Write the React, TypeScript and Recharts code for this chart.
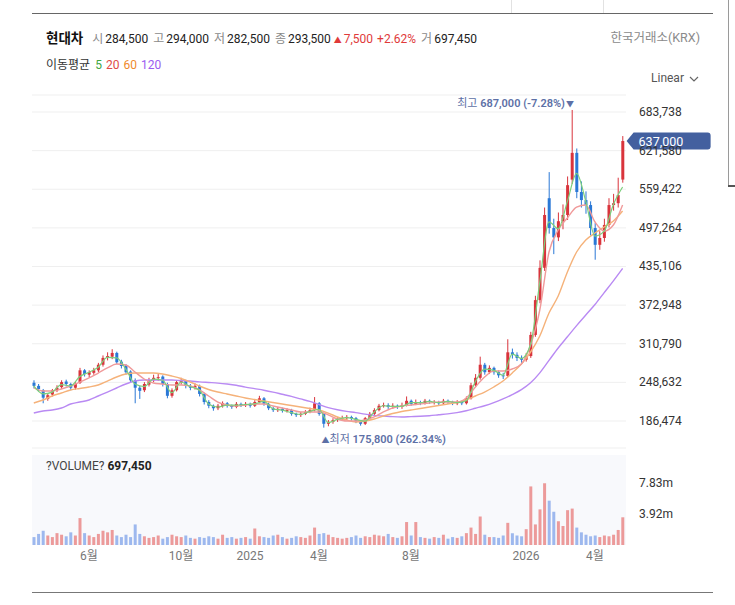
import React from 'react';
import { ComposedChart, BarChart, Bar, Line, XAxis, YAxis, CartesianGrid, ReferenceDot, Cell } from 'recharts';

// ---- axis categories / ticks ----
const monthTicks = [5, 9, 12, 15, 19, 24, 27]; // months since Jan 2024
const monthLabels = ['6월', '10월', '2025', '4월', '8월', '2026', '4월'];
const priceTicks = [186474, 248632, 310790, 372948, 435106, 497264, 559422, 621580, 683738];
const volumeTicks = [3915000, 7830000];
const volumeTickLabels = ['3.92m', '7.83m'];

// candle times: months since Jan 2024 (one candle ≈ 4 trading days)
const START_T = 2.6;
const STEP_T = 0.2;

// ---- OHLC, thousands of KRW ----
const opens = [
  248, 243, 236, 222, 229, 236, 241, 250, 246, 240,
  248, 268, 261, 264, 268, 277, 289, 290, 296, 282,
  276, 266, 252, 240, 236, 245, 252, 256, 258, 246,
  227, 236, 249, 251, 243, 240, 243, 230, 217, 211,
  207, 211, 215, 211, 209, 214, 212, 214, 211, 217,
  223, 214, 207, 204, 206, 203, 204, 198, 196, 198,
  201, 204, 215, 198, 182, 185, 188, 190, 191, 193,
  191, 186, 182, 191, 198, 204, 211, 212, 209, 211,
  209, 212, 219, 214, 217, 215, 219, 216, 217, 215,
  219, 217, 215, 217, 215, 223, 244, 256, 277, 265,
  272, 265, 260, 259, 297, 293, 288, 285, 291, 325,
  381, 433, 545, 497, 482, 508, 518, 575, 618, 555,
  542, 534, 497, 470, 481, 502, 534, 537, 575,
];
const highs = [
  252, 246, 238, 231, 238, 244, 252, 253, 248, 249,
  272, 270, 268, 272, 280, 292, 297, 302, 298, 285,
  278, 268, 255, 243, 249, 256, 261, 262, 260, 248,
  239, 252, 256, 253, 246, 247, 245, 232, 220, 213,
  214, 218, 217, 213, 217, 216, 217, 216, 220, 227,
  225, 216, 209, 209, 208, 207, 206, 200, 201, 204,
  208, 225, 217, 200, 188, 191, 193, 195, 196, 195,
  193, 188, 193, 201, 207, 214, 216, 215, 215, 213,
  216, 226, 221, 221, 219, 222, 221, 220, 219, 222,
  221, 219, 220, 219, 226, 248, 262, 290, 280, 276,
  274, 268, 264, 318, 303, 297, 292, 296, 330, 388,
  445, 530, 587, 512, 522, 535, 580, 687, 625, 572,
  556, 540, 505, 492, 512, 545, 552, 578, 645,
];
const lows = [
  239, 234, 215, 219, 226, 233, 238, 242, 236, 237,
  246, 258, 257, 261, 265, 274, 284, 286, 278, 271,
  261, 248, 215, 222, 233, 242, 249, 251, 242, 223,
  224, 234, 245, 239, 236, 237, 226, 213, 207, 203,
  204, 208, 208, 206, 207, 209, 209, 208, 209, 215,
  211, 204, 201, 201, 200, 200, 195, 193, 193, 196,
  199, 202, 195, 175.8, 178, 182, 185, 187, 188, 187,
  183, 179, 180, 189, 196, 202, 208, 206, 206, 206,
  206, 210, 211, 212, 212, 213, 214, 213, 212, 213,
  214, 212, 212, 212, 213, 221, 241, 253, 261, 262,
  261, 256, 254, 257, 287, 283, 280, 282, 288, 322,
  376, 428, 488, 455, 476, 495, 510, 568, 545, 530,
  520, 485, 446, 462, 475, 498, 525, 530, 570,
];
const closes = [
  243, 238, 224, 228, 236, 240, 249, 246, 240, 246,
  268, 262, 265, 268, 277, 288, 291, 296, 281, 275,
  265, 252, 240, 235, 246, 252, 256, 257, 246, 227,
  236, 249, 251, 243, 240, 243, 230, 217, 211, 207,
  211, 215, 211, 209, 214, 212, 214, 211, 217, 223,
  214, 207, 204, 206, 203, 204, 198, 196, 198, 201,
  204, 215, 198, 182, 185, 188, 190, 191, 193, 191,
  186, 182, 191, 198, 204, 211, 212, 209, 211, 209,
  212, 219, 214, 217, 215, 219, 217, 217, 215, 219,
  217, 215, 217, 215, 223, 244, 256, 277, 265, 272,
  265, 260, 259, 297, 293, 288, 285, 291, 325, 381,
  433, 518, 497, 482, 508, 518, 566, 618, 555, 542,
  534, 497, 470, 481, 502, 534, 537, 550, 637,
];
// ---- volume, millions of shares ----
const volumes = [
  1.0, 1.4, 1.8, 1.2, 1.0, 1.5, 1.3, 1.1, 1.6, 1.2,
  3.4, 1.5, 1.2, 1.0, 1.4, 1.8, 1.6, 1.9, 1.2, 1.0,
  1.3, 1.0, 2.6, 1.4, 1.1, 0.9, 1.0, 1.2, 0.8, 1.0,
  1.3, 1.1, 1.0, 1.2, 0.9, 0.8, 1.0, 0.9, 1.1, 1.0,
  0.8, 1.3, 0.9, 1.0, 0.8, 0.9, 1.0, 0.8, 2.1, 1.1,
  1.0, 0.9, 1.2, 1.3, 1.0, 0.8, 0.9, 1.1, 1.0, 0.9,
  1.2, 2.2, 1.4, 1.5, 1.3, 1.0, 0.9, 0.8, 0.9, 1.0,
  1.2, 0.9, 1.1, 1.0, 1.3, 1.2, 1.1, 1.4, 1.0, 0.9,
  1.1, 2.9, 1.2, 2.9, 1.0, 0.9, 0.8, 1.0, 0.9, 1.3,
  0.8, 1.0, 0.9, 1.1, 1.5, 2.2, 1.4, 3.6, 1.3, 1.0,
  1.0, 0.9, 1.2, 2.8, 1.5, 1.2, 1.1, 2.0, 7.4, 2.6,
  4.5, 7.8, 5.6, 4.2, 3.0, 2.4, 4.4, 4.6, 2.2, 1.6,
  1.3, 1.1, 1.2, 1.0, 1.2, 1.1, 1.3, 1.9, 3.5,
];
// ---- moving averages (every 2nd candle), thousands of KRW ----
const ma5 = [
  243, 230, 233, 245, 243, 258, 265, 273, 289, 288,
  270, 246, 242, 254, 252, 232, 249, 242, 236, 214,
  209, 212, 212, 213, 214, 218, 206, 204, 200, 197,
  202, 205, 184, 189, 192, 189, 186, 201, 211, 210,
  210, 216, 216, 218, 216, 218, 216, 219, 250, 270,
  268, 260, 294, 287, 310, 410, 507, 496, 540, 585,
  540, 484, 492, 535, 563,
];
const ma20 = [
  239.6, 234.7, 234.7, 238.0, 242.8, 249.2, 255.7, 263.7, 271.8, 278.2,
  276.6, 265.3, 254.1, 247.6, 246.0, 244.4, 244.4, 242.8, 236.4, 226.7,
  217.0, 212.2, 210.6, 212.2, 213.8, 213.8, 210.6, 207.4, 204.2, 201.0,
  201.0, 201.0, 196.3, 189.7, 186.5, 186.5, 188.1, 193.0, 201.0, 207.4,
  210.6, 212.2, 213.8, 215.4, 217.0, 217.0, 217.0, 223.5, 241.2, 257.3,
  266.9, 266.9, 270.2, 278.2, 308.8, 365.1, 458.4, 493.8, 513.2, 530.8,
  534.1, 506.7, 492.2, 501.9, 534.1,
];
const ma60 = [
  215.4, 220.3, 226.7, 231.5, 236.4, 238.8, 241.2, 244.4, 250.8, 257.3,
  262.1, 263.7, 263.7, 263.7, 262.1, 258.9, 254.9, 249.2, 242.8, 237.2,
  233.1, 229.9, 226.7, 223.5, 221.0, 218.6, 216.2, 213.8, 211.4, 209.0,
  206.6, 204.2, 199.3, 192.9, 188.1, 184.9, 186.5, 189.7, 194.5, 198.5,
  201.8, 204.2, 206.6, 209.0, 211.4, 213.8, 216.2, 220.3, 226.7, 233.1,
  241.2, 250.8, 263.7, 278.2, 297.5, 323.3, 360.3, 387.6, 426.3, 458.4,
  477.7, 489.0, 498.7, 508.3, 524.4,
];
const ma120 = [
  199.3, 202.6, 204.2, 207.4, 213.8, 217.0, 220.3, 226.7, 233.1, 239.6,
  246.0, 250.8, 252.4, 252.4, 252.4, 252.4, 251.6, 250.8, 249.5, 248.5,
  247.5, 246.0, 244.0, 241.0, 238.5, 236.0, 233.0, 229.5, 226.0, 222.0,
  218.0, 213.0, 208.0, 204.5, 202.0, 200.0, 197.5, 195.5, 194.5, 193.5,
  193.0, 193.5, 194.0, 195.0, 196.5, 198.0, 200.0, 203.0, 207.0, 211.0,
  216.0, 222.0, 229.0, 237.0, 248.0, 264.0, 284.0, 304.0, 322.0, 340.0,
  357.0, 374.0, 393.0, 412.0, 432.0,
];

const HIGH_INDEX = 117;
const LOW_INDEX = 63;

const UP = '#d9343c';
const DOWN = '#2a78d6';
const UP_VOL = '#ec9a9a';
const DOWN_VOL = '#9db8ee';
const FONT = 'Roboto, "Noto Sans CJK KR", sans-serif';

const rows = closes.map((c, i) => ({
  t: START_T + i * STEP_T,
  o: opens[i] * 1000,
  h: highs[i] * 1000,
  l: lows[i] * 1000,
  c: c * 1000,
  range: [lows[i] * 1000, highs[i] * 1000],
  vol: volumes[i] * 1e6,
  ma5: i % 2 === 0 ? ma5[i / 2] * 1000 : null,
  ma20: i % 2 === 0 ? ma20[i / 2] * 1000 : null,
  ma60: i % 2 === 0 ? ma60[i / 2] * 1000 : null,
  ma120: i % 2 === 0 ? ma120[i / 2] * 1000 : null,
}));

const X_DOMAIN: [number, number] = [2.522, 28.348];
const Y_DOMAIN: [number, number] = [143023, 711096];
const V_DOMAIN: [number, number] = [0, 11370000];

const Candle = (props: any) => {
  const { x, y, width, height, payload } = props;
  if (!payload) return null;
  const { o, h, l, c } = payload;
  const top = Math.min(y, y + height);
  const bot = Math.max(y, y + height);
  const span = h - l || 1;
  const k = (bot - top) / span;
  const yO = top + (h - o) * k;
  const yC = top + (h - c) * k;
  const color = c >= o ? UP : DOWN;
  const cx = x + width / 2;
  const bTop = Math.min(yO, yC);
  const bH = Math.max(1, Math.abs(yO - yC));
  return (
    <g>
      <line x1={cx} x2={cx} y1={top} y2={bot} stroke={color} strokeWidth={1} />
      <rect x={x} y={bTop} width={width} height={bH} fill={color} />
    </g>
  );
};

const PriceTick = (props: any) => {
  const { x, y, payload } = props;
  return (
    <text x={x + 13} y={y + 4} fontSize={12} fill="#333" fontFamily={FONT} textAnchor="start">
      {payload.value.toLocaleString('en-US')}
    </text>
  );
};

const VolTick = (props: any) => {
  const { x, y, payload } = props;
  const idx = volumeTicks.indexOf(payload.value);
  return (
    <text x={x + 13} y={y + 4} fontSize={12} fill="#333" fontFamily={FONT} textAnchor="start">
      {volumeTickLabels[idx]}
    </text>
  );
};

const MonthTick = (props: any) => {
  const { x, y, payload } = props;
  const idx = monthTicks.indexOf(payload.value);
  return (
    <text x={x} y={y + 15} fontSize={12} fill="#777" fontFamily={FONT} textAnchor="middle">
      {monthLabels[idx]}
    </text>
  );
};

const HighLabel = (props: any) => {
  const { cx, cy } = props;
  return (
    <text x={cx + 2} y={cy - 3} fontSize={11} fill="#5d70a6" fontFamily={FONT} textAnchor="end">
      <tspan>최고 </tspan>
      <tspan fontWeight={600}>687,000 (-7.28%)</tspan>
      <tspan fontSize={8} dx={1}>▼</tspan>
    </text>
  );
};

const LowLabel = (props: any) => {
  const { cx, cy } = props;
  return (
    <text x={cx - 2} y={cy + 15} fontSize={11} fill="#5d70a6" fontFamily={FONT} textAnchor="start">
      <tspan fontSize={8}>▲</tspan>
      <tspan>최저 </tspan>
      <tspan fontWeight={600}>175,800 (262.34%)</tspan>
    </text>
  );
};

const LastBadge = (props: any) => {
  const { cx, cy } = props;
  const x0 = cx + 4;
  const x1 = x0 + 7;
  const x2 = x0 + 84;
  const h = 8.5;
  return (
    <g>
      <path
        d={`M${x0},${cy} L${x1},${cy - h} L${x2 - 3},${cy - h} Q${x2},${cy - h} ${x2},${cy - h + 3} L${x2},${cy + h - 3} Q${x2},${cy + h} ${x2 - 3},${cy + h} L${x1},${cy + h} Z`}
        fill="#43609f"
      />
      <text x={x0 + 12} y={cy + 4.5} fontSize={12.5} fill="#fff" fontFamily={FONT}>637,000</text>
    </g>
  );
};

const label: React.CSSProperties = { color: '#8a8a8a', marginRight: 2 };
const val: React.CSSProperties = { color: '#222', marginRight: 5 };

export default function App() {
  const last = rows[rows.length - 1];
  return (
    <div style={{ position: 'absolute', left: 0, top: 0, width: 735, height: 605, background: '#fff', fontFamily: FONT, overflow: 'hidden' }}>
      {/* frame lines */}
      <div style={{ position: 'absolute', left: 32, top: 13, width: 681, height: 1, background: '#666' }} />
      <div style={{ position: 'absolute', left: 511, top: 0, width: 1, height: 13, background: '#e2e2e2' }} />
      <div style={{ position: 'absolute', left: 603, top: 0, width: 1, height: 13, background: '#e2e2e2' }} />
      <div style={{ position: 'absolute', left: 728, top: 0, width: 1, height: 186, background: '#9a9a9a' }} />
      <div style={{ position: 'absolute', left: 728, top: 185, width: 7, height: 2, background: '#555' }} />
      <div style={{ position: 'absolute', left: 32, top: 592, width: 681, height: 1, background: '#777' }} />

      {/* header */}
      <div style={{ position: 'absolute', left: 46, top: 30, fontSize: 12, lineHeight: '16px', whiteSpace: 'nowrap', color: '#222' }}>
        <span style={{ fontWeight: 700, fontSize: 13.5, marginRight: 9, color: '#111' }}>현대차</span>
        <span style={label}>시</span><span style={val}>284,500</span>
        <span style={label}>고</span><span style={val}>294,000</span>
        <span style={label}>저</span><span style={val}>282,500</span>
        <span style={label}>종</span><span style={{ ...val, marginRight: 3 }}>293,500</span>
        <span style={{ color: '#e03a3a', fontSize: 8, marginRight: 2 }}>▲</span>
        <span style={{ color: '#e03a3a', marginRight: 4 }}>7,500</span>
        <span style={{ color: '#e03a3a', marginRight: 5 }}>+2.62%</span>
        <span style={label}>거</span><span style={val}>697,450</span>
      </div>
      <div style={{ position: 'absolute', right: 35, top: 30, fontSize: 12.5, lineHeight: '16px', color: '#8a8a8a', whiteSpace: 'nowrap' }}>
        한국거래소(KRX)
      </div>
      <div style={{ position: 'absolute', left: 46, top: 57, fontSize: 12, lineHeight: '16px', whiteSpace: 'nowrap', color: '#333' }}>
        <span style={{ marginRight: 5 }}>이동평균</span>
        <span style={{ color: '#3fa63f', marginRight: 4 }}>5</span>
        <span style={{ color: '#e04848', marginRight: 4 }}>20</span>
        <span style={{ color: '#ef8a2c', marginRight: 4 }}>60</span>
        <span style={{ color: '#9a5cf0' }}>120</span>
      </div>
      <div style={{ position: 'absolute', left: 651, top: 70, fontSize: 12, lineHeight: '16px', color: '#555', whiteSpace: 'nowrap' }}>
        Linear
      </div>
      <svg style={{ position: 'absolute', left: 689, top: 75 }} width={10} height={8}>
        <polyline points="1,2 5,6 9,2" fill="none" stroke="#666" strokeWidth={1.2} />
      </svg>

      {/* volume panel background */}
      <div style={{ position: 'absolute', left: 32, top: 455, width: 594, height: 90, background: '#f8f9fc' }} />
      <div style={{ position: 'absolute', left: 46, top: 459, fontSize: 12, lineHeight: '15px', color: '#444', whiteSpace: 'nowrap' }}>
        ?VOLUME? <span style={{ fontWeight: 700, color: '#222' }}>697,450</span>
      </div>

      {/* price chart */}
      <div style={{ position: 'absolute', left: 0, top: 0 }}>
        <ComposedChart width={735} height={450} data={rows} margin={{ top: 95, right: 0, bottom: 2, left: 32 }}>
          <CartesianGrid horizontal vertical={false} stroke="#efefef" />
          <XAxis type="number" dataKey="t" domain={X_DOMAIN} allowDataOverflow hide />
          <YAxis
            orientation="right"
            width={109}
            domain={Y_DOMAIN}
            ticks={priceTicks}
            allowDataOverflow
            axisLine={false}
            tickLine={false}
            tickSize={0}
            tickMargin={0}
            tick={<PriceTick />}
            interval={0}
          />
          <Bar dataKey="range" barSize={3} shape={<Candle />} isAnimationActive={false} />
          <Line type="monotone" dataKey="ma120" stroke="#b98af3" strokeWidth={1.4} dot={false} connectNulls isAnimationActive={false} />
          <Line type="monotone" dataKey="ma60" stroke="#f5b27a" strokeWidth={1.4} dot={false} connectNulls isAnimationActive={false} />
          <Line type="monotone" dataKey="ma20" stroke="#f09a9a" strokeWidth={1.4} dot={false} connectNulls isAnimationActive={false} />
          <Line type="monotone" dataKey="ma5" stroke="#7ccf7c" strokeWidth={1.2} dot={false} connectNulls isAnimationActive={false} />
          <ReferenceDot x={rows[HIGH_INDEX].t} y={highs[HIGH_INDEX] * 1000} r={0} shape={<HighLabel />} />
          <ReferenceDot x={rows[LOW_INDEX].t} y={lows[LOW_INDEX] * 1000} r={0} shape={<LowLabel />} />
          <ReferenceDot x={last.t} y={last.c} r={0} shape={<LastBadge />} />
        </ComposedChart>
      </div>

      {/* volume chart */}
      <div style={{ position: 'absolute', left: 0, top: 450 }}>
        <BarChart width={735} height={120} data={rows} margin={{ top: 5, right: 0, bottom: 5, left: 32 }}>
          <XAxis
            type="number"
            dataKey="t"
            domain={X_DOMAIN}
            allowDataOverflow
            ticks={monthTicks}
            interval={0}
            axisLine={false}
            tickLine={false}
            tickSize={0}
            tickMargin={0}
            height={20}
            tick={<MonthTick />}
          />
          <YAxis
            orientation="right"
            width={109}
            domain={V_DOMAIN}
            ticks={volumeTicks}
            allowDataOverflow
            axisLine={false}
            tickLine={false}
            tickSize={0}
            tickMargin={0}
            tick={<VolTick />}
            interval={0}
          />
          <Bar dataKey="vol" barSize={3} isAnimationActive={false}>
            {rows.map((r, i) => (
              <Cell key={i} fill={r.c >= r.o ? UP_VOL : DOWN_VOL} />
            ))}
          </Bar>
        </BarChart>
      </div>
    </div>
  );
}
